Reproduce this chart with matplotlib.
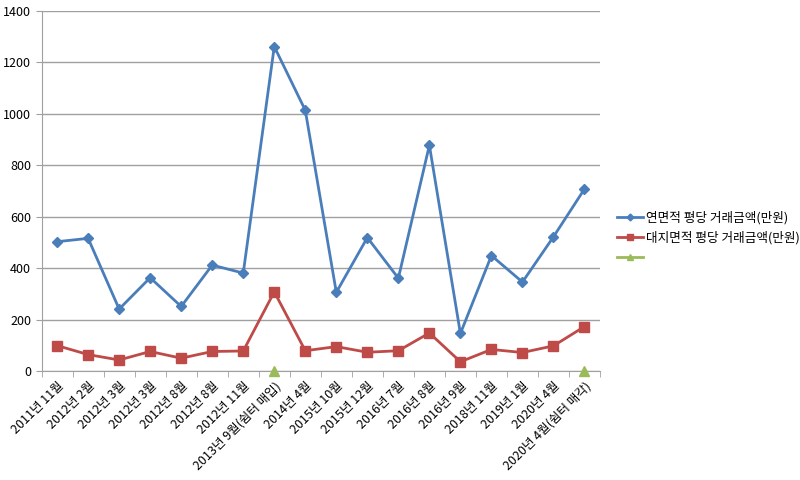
import numpy as np
import matplotlib.pyplot as plt

plt.rcParams['font.family'] = ['Noto Sans CJK KR', 'DejaVu Sans']

# 거래 시점
dates = ['2011년 11월', '2012년 2월', '2012년 3월', '2012년 3월', '2012년 8월',
         '2012년 8월', '2012년 11월', '2013년 9월(쉼터 매입)', '2014년 4월',
         '2015년 10월', '2015년 12월', '2016년 7월', '2016년 8월', '2016년 9월',
         '2018년 11월', '2019년 1월', '2020년 4월', '2020년 4월(쉼터 매각)']
# 연면적 평당 거래금액(만원)
floor_price = [503, 516, 241, 363, 251, 412, 381, 1262, 1014, 306, 519, 361,
               878, 146, 449, 346, 522, 708]
# 대지면적 평당 거래금액(만원)
land_price = [99, 64, 43, 76, 50, 76, 78, 308, 79, 95, 73, 79, 148, 36, 84,
              72, 98, 173]
# 쉼터 매입/매각 표시
marks = [np.nan] * 7 + [0] + [np.nan] * 9 + [0]

x = np.arange(len(dates))

fig = plt.figure(figsize=(8, 4.8), dpi=100)
ax = fig.add_axes([0.052, 0.227, 0.698, 0.75])

ax.plot(x, floor_price, color='#4A7EBB', lw=2, marker='D', ms=5,
        label='연면적 평당 거래금액(만원)')
ax.plot(x, land_price, color='#BE4B48', lw=2, marker='s', ms=7,
        label='대지면적 평당 거래금액(만원)')
ax.plot(x, marks, color='#9BBB59', lw=2, marker='^', ms=7, label=' ',
        clip_on=False, zorder=5)

ax.set_xlim(-0.5, len(dates) - 0.5)
ax.set_ylim(0, 1400)
ax.set_yticks(range(0, 1401, 200))
ax.yaxis.grid(True, color='#A0A0A0', lw=1)
ax.set_axisbelow(True)

ax.set_xticks(x)
ax.set_xticklabels(dates, rotation=45, ha='right', rotation_mode='anchor',
                   fontsize=9)
ax.tick_params(axis='x', length=0, pad=6)
ax.set_xticks(np.arange(-0.5, len(dates)), minor=True)
ax.tick_params(axis='x', which='minor', length=4, color='#A0A0A0')
ax.tick_params(axis='y', length=4, color='#A0A0A0', labelsize=9)

for s in ['top', 'right']:
    ax.spines[s].set_visible(False)
for s in ['left', 'bottom']:
    ax.spines[s].set_color('#A0A0A0')

ax.legend(loc='center left', bbox_to_anchor=(1.015, 0.37), frameon=False,
          fontsize=9.1, handlelength=2.0, handletextpad=0.3,
          labelspacing=0.55, markerscale=0.7, borderaxespad=0.3)

fig.savefig('out.png')
